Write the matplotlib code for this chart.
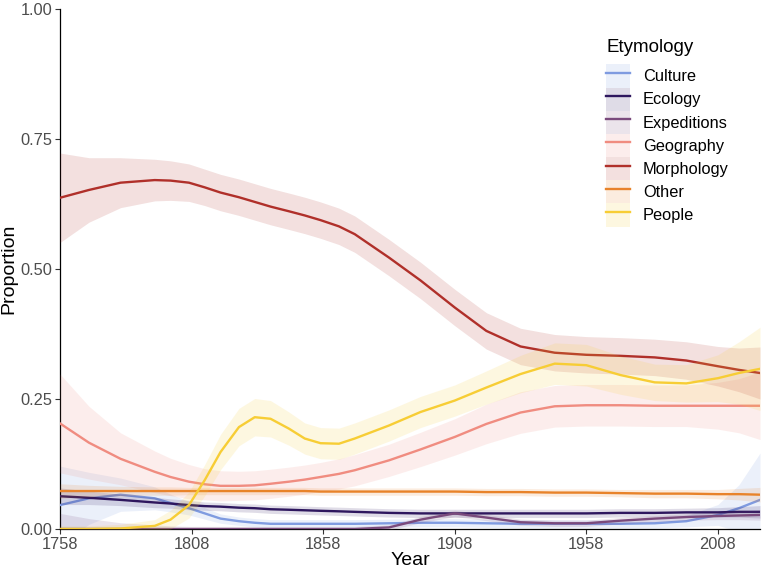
import numpy as np
import matplotlib
matplotlib.use("Agg")
import matplotlib.pyplot as plt
from matplotlib.patches import Patch
from matplotlib.lines import Line2D

plt.rcParams['font.family'] = ['Liberation Sans', 'DejaVu Sans']

years = [1758, 1769, 1781, 1794, 1800, 1807, 1813, 1819, 1826, 1832, 1838, 1845, 1851, 1857,
         1864, 1870, 1883, 1895, 1908, 1920, 1933, 1946, 1958, 1971, 1984, 1996, 2008, 2016, 2024]

categories = ["Culture", "Ecology", "Expeditions", "Geography", "Morphology", "Other", "People"]
colors = ["#7F9BE0", "#2E175E", "#7A4A7C", "#F08C80", "#B0302A", "#E8832A", "#F7CD35"]

culture = [0.046, 0.059, 0.066, 0.059, 0.050, 0.040, 0.030, 0.020, 0.015, 0.012, 0.010, 0.010, 0.010, 0.010,
           0.010, 0.010, 0.011, 0.012, 0.012, 0.011, 0.010, 0.010, 0.010, 0.010, 0.011, 0.015, 0.027, 0.040, 0.056]
culture_ci = [0.075, 0.050, 0.032, 0.022, 0.017, 0.013, 0.011, 0.009, 0.008, 0.008, 0.008, 0.008, 0.008, 0.008,
              0.008, 0.008, 0.008, 0.008, 0.008, 0.008, 0.008, 0.008, 0.008, 0.008, 0.009, 0.011, 0.020, 0.045, 0.090]

ecology = [0.063, 0.060, 0.056, 0.051, 0.049, 0.046, 0.044, 0.043, 0.041, 0.040, 0.038, 0.037, 0.036, 0.035,
           0.034, 0.033, 0.031, 0.030, 0.030, 0.030, 0.030, 0.030, 0.030, 0.031, 0.031, 0.032, 0.032, 0.033, 0.033]
ecology_ci = [0.016, 0.013, 0.011, 0.010, 0.009, 0.009, 0.008, 0.008, 0.008, 0.008, 0.008, 0.008, 0.008, 0.008,
              0.008, 0.008, 0.008, 0.008, 0.008, 0.008, 0.008, 0.008, 0.008, 0.008, 0.008, 0.008, 0.009, 0.010, 0.012]

expeditions = [0.000, 0.000, 0.000, 0.000, 0.000, 0.000, 0.000, 0.000, 0.000, 0.000, 0.000, 0.000, 0.000, 0.000,
               0.000, 0.000, 0.003, 0.018, 0.030, 0.022, 0.013, 0.011, 0.011, 0.016, 0.020, 0.023, 0.025, 0.026, 0.027]
expeditions_ci = [0.030, 0.020, 0.012, 0.008, 0.006, 0.005, 0.005, 0.005, 0.005, 0.005, 0.005, 0.005, 0.005, 0.005,
                  0.005, 0.005, 0.005, 0.006, 0.006, 0.006, 0.006, 0.006, 0.006, 0.006, 0.006, 0.006, 0.007, 0.008, 0.010]

geography = [0.203, 0.166, 0.135, 0.110, 0.100, 0.091, 0.086, 0.083, 0.083, 0.084, 0.087, 0.091, 0.095, 0.100,
             0.106, 0.113, 0.132, 0.153, 0.177, 0.202, 0.224, 0.236, 0.238, 0.238, 0.237, 0.237, 0.237, 0.237, 0.237]
geography_ci = [0.095, 0.070, 0.050, 0.040, 0.036, 0.033, 0.030, 0.029, 0.028, 0.028, 0.028, 0.028, 0.028, 0.028,
                0.029, 0.030, 0.031, 0.033, 0.035, 0.038, 0.040, 0.040, 0.040, 0.040, 0.040, 0.040, 0.045, 0.052, 0.065]

morphology = [0.637, 0.652, 0.666, 0.671, 0.670, 0.666, 0.657, 0.647, 0.638, 0.629, 0.620, 0.611, 0.603, 0.594,
              0.582, 0.567, 0.522, 0.478, 0.426, 0.381, 0.351, 0.339, 0.335, 0.333, 0.330, 0.324, 0.313, 0.306, 0.300]
morphology_ci = [0.086, 0.062, 0.048, 0.040, 0.038, 0.036, 0.035, 0.035, 0.035, 0.035, 0.035, 0.035, 0.035, 0.035,
                 0.035, 0.035, 0.035, 0.035, 0.035, 0.035, 0.035, 0.035, 0.035, 0.035, 0.035, 0.036, 0.038, 0.042, 0.050]

other = [0.073, 0.073, 0.073, 0.073, 0.073, 0.073, 0.073, 0.073, 0.073, 0.073, 0.073, 0.073, 0.073, 0.072,
         0.072, 0.072, 0.072, 0.072, 0.072, 0.071, 0.071, 0.070, 0.070, 0.069, 0.068, 0.068, 0.067, 0.067, 0.066]
other_ci = [0.014, 0.011, 0.009, 0.008, 0.008, 0.007, 0.007, 0.007, 0.007, 0.007, 0.007, 0.007, 0.007, 0.007,
            0.007, 0.007, 0.007, 0.007, 0.007, 0.007, 0.007, 0.007, 0.007, 0.007, 0.008, 0.008, 0.009, 0.011, 0.014]

people = [0.000, 0.000, 0.001, 0.006, 0.018, 0.046, 0.094, 0.148, 0.196, 0.215, 0.212, 0.193, 0.174, 0.165,
          0.164, 0.174, 0.199, 0.225, 0.247, 0.272, 0.298, 0.318, 0.315, 0.296, 0.282, 0.280, 0.290, 0.300, 0.308]
people_ci = [0.006, 0.006, 0.008, 0.012, 0.018, 0.025, 0.030, 0.034, 0.036, 0.036, 0.035, 0.032, 0.030, 0.030,
             0.030, 0.030, 0.030, 0.030, 0.030, 0.032, 0.036, 0.040, 0.040, 0.037, 0.035, 0.036, 0.045, 0.060, 0.080]

series = [(culture, culture_ci), (ecology, ecology_ci), (expeditions, expeditions_ci),
          (geography, geography_ci), (morphology, morphology_ci), (other, other_ci), (people, people_ci)]

W, H = 762, 571
fig = plt.figure(figsize=(W / 100, H / 100), dpi=100)
ax = fig.add_axes([60 / W, (H - 529) / H, (760 - 60) / W, (529 - 9) / H])

x = np.array(years, dtype=float)
handles = []
for i, (name, col, (vals, ci)) in enumerate(zip(categories, colors, series)):
    v = np.array(vals)
    c = np.array(ci)
    ax.fill_between(x, v - c, v + c, color=col, alpha=0.15, lw=0, zorder=2 + 2 * i)
    ax.plot(x, v, color=col, lw=1.7, zorder=3 + 2 * i, solid_joinstyle='round')
    handles.append((Patch(facecolor=col, alpha=0.15, edgecolor='none'),
                    Line2D([], [], color=col, lw=1.7)))

ax.set_xlim(1758, 2024)
ax.set_ylim(0, 1)
ax.set_xticks([1758, 1808, 1858, 1908, 1958, 2008])
ax.set_yticks([0, 0.25, 0.5, 0.75, 1.0])
ax.set_yticklabels(["0.00", "0.25", "0.50", "0.75", "1.00"])
for s in ['top', 'right']:
    ax.spines[s].set_visible(False)
for s in ['left', 'bottom']:
    ax.spines[s].set_color('black')
    ax.spines[s].set_linewidth(0.9)
ax.tick_params(axis='both', colors='#333333', labelcolor='#4D4D4D', labelsize=11.8,
               length=3.5, width=0.8, pad=2)
ax.set_xlabel("Year", fontsize=14, labelpad=0)
ax.set_ylabel("Proportion", fontsize=14, labelpad=2)

leg = ax.legend(handles, categories, title="Etymology", loc='upper left',
                bbox_to_anchor=(606 / W, 1 - 39 / H), bbox_transform=fig.transFigure,
                frameon=False, fontsize=11.8, title_fontsize=13.5,
                handlelength=1.45, handleheight=1.8, labelspacing=0.0,
                handletextpad=0.8, borderpad=0, borderaxespad=0, alignment='left')
leg._legend_box.sep = 6

fig.savefig("out.png", dpi=100)
